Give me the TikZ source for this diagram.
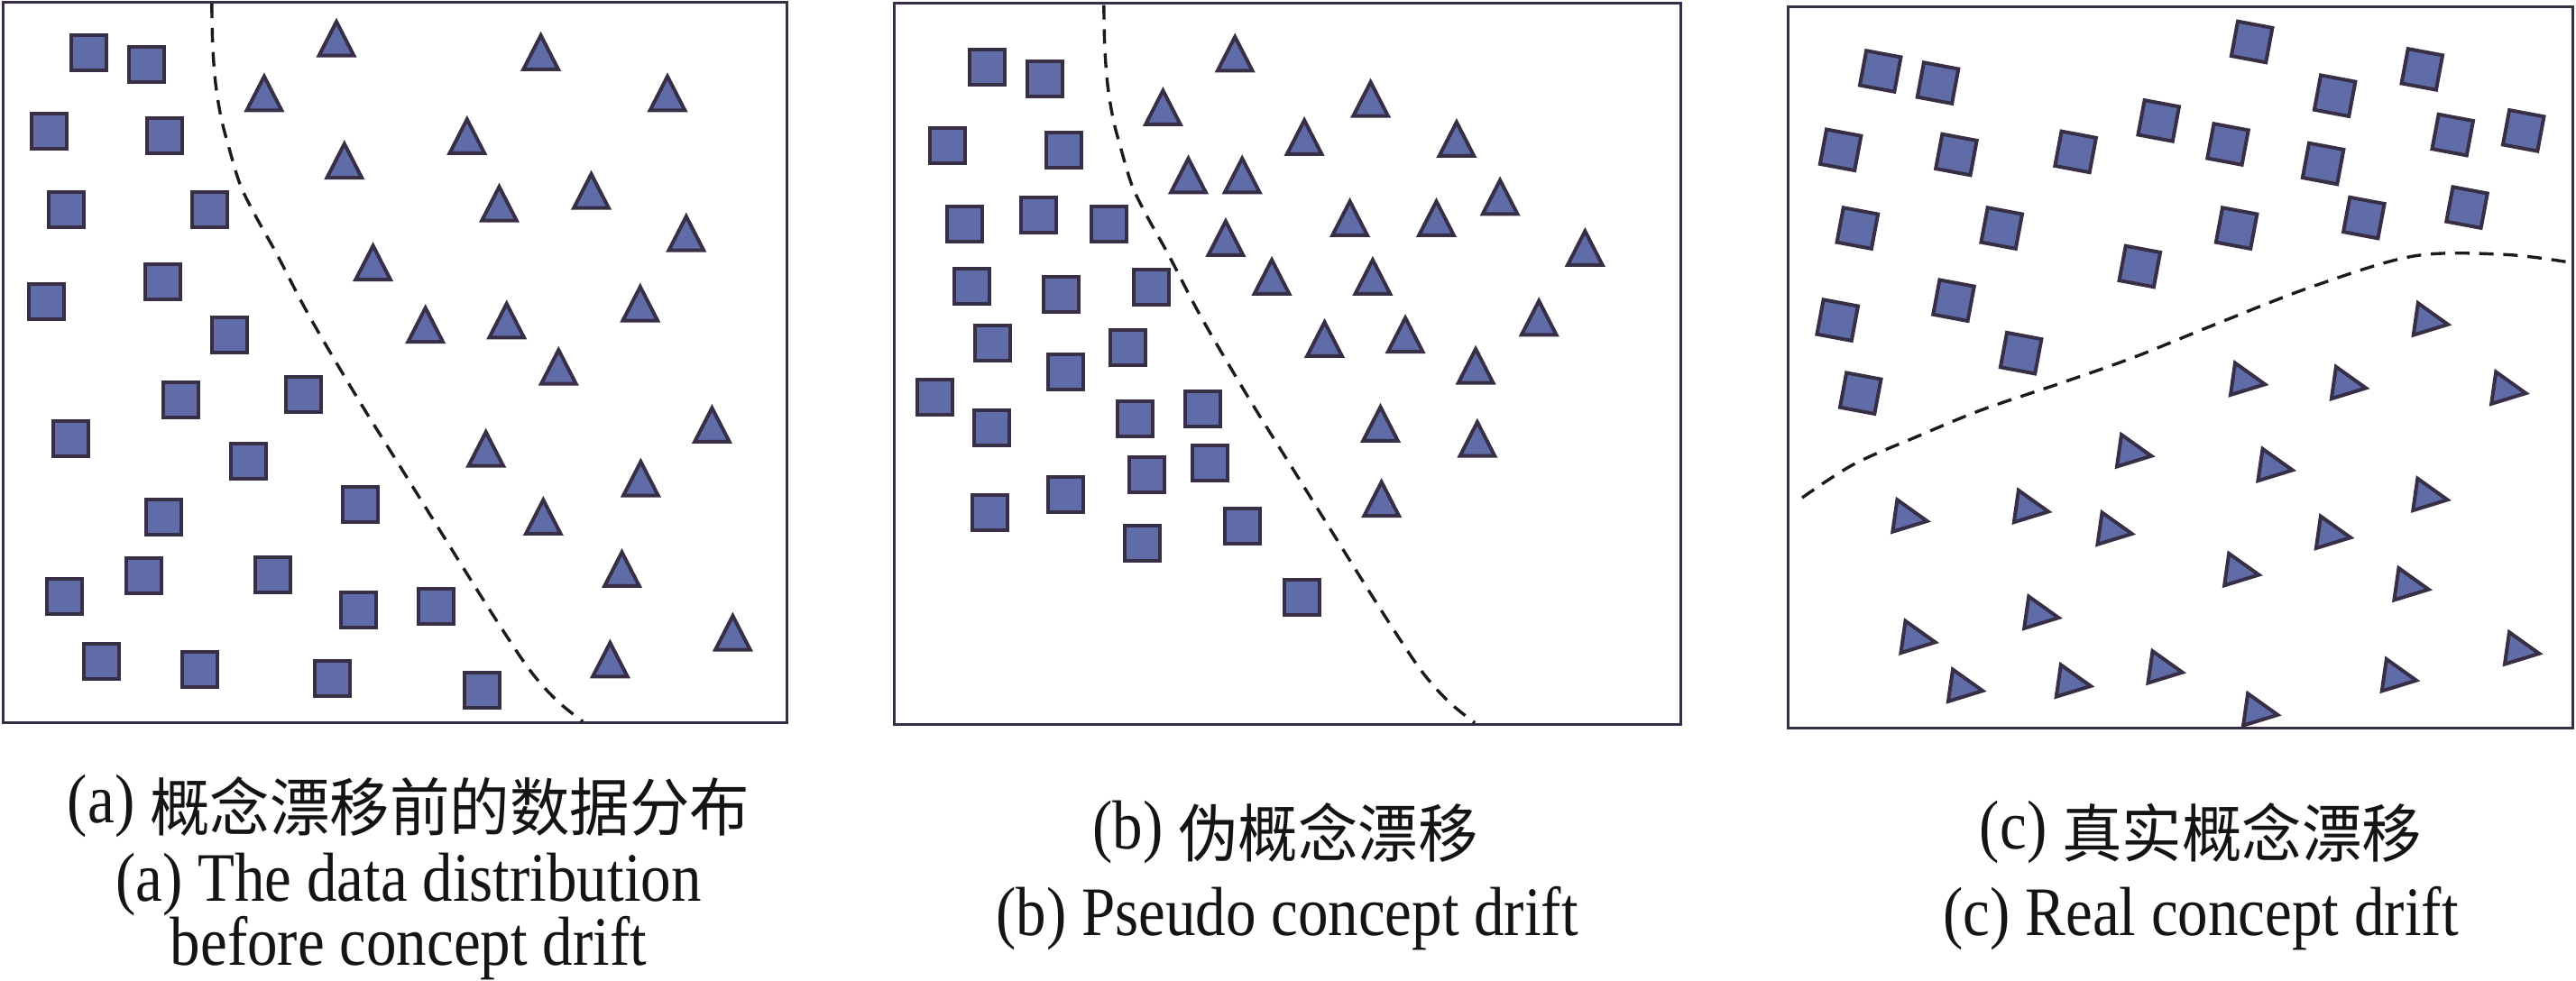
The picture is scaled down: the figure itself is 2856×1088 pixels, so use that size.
\documentclass[tikz,border=0pt]{standalone}
\usepackage{fontspec}
\setmainfont{Liberation Serif}[FakeStretch=0.87]
\newfontfamily\cjkfont{Noto Sans CJK SC}[FakeStretch=0.95]
\newcommand\zh[1]{\raisebox{-2pt}{\fontsize{17.5pt}{17.5pt}\cjkfont #1}}
\definecolor{mkfill}{RGB}{95,108,167}
\definecolor{mkline}{RGB}{56,46,70}
\definecolor{sepline}{RGB}{28,26,32}
\tikzset{
  mk/.style={fill=mkfill, draw=mkline, line width=1pt, line join=miter},
  panelframe/.style={draw=mkline, line width=0.75pt},
  sepcurve/.style={draw=sepline, line width=0.85pt, dash pattern=on 4pt off 2.7pt},
  lbl/.style={anchor=base, inner sep=0pt, text=black!92, font=\fontsize{19.25pt}{19.25pt}\selectfont},
  sqa/.pic={\path[mk] (-19.5,-19.5) rectangle (19.5,19.5);},
  tria/.pic={\path[mk] (0,-17.8) -- (19.3,19.8) -- (-19.3,19.8) -- cycle;},
  sqc/.pic={\path[mk] (-15.58,-22.76) -- (22.76,-15.58) -- (15.58,22.76) -- (-22.76,15.58) -- cycle;},
  tric/.pic={\path[mk] (-14.6,-17.4) -- (18.55,6.25) -- (-19.65,18.0) -- cycle;},
}
\begin{document}
\begin{tikzpicture}[x=0.25pt,y=-0.25pt]
\useasboundingbox (0,0) rectangle (2856,1088);
% frames
\draw[panelframe] (3,2.5) rectangle (872,802);
\draw[panelframe] (991,3.7) rectangle (1863,804);
\draw[panelframe] (1982,8) rectangle (2852,808);
% separating curves
\draw[sepcurve] plot[smooth, tension=0.55] coordinates {(234.8,4.2) (235.9,52.3) (239.2,94.1) (245.2,130.8) (253.4,162.1) (266.0,204.0) (282.5,238.0) (307.2,282.4) (342.8,350.4) (395.0,439.3) (447.1,523.0) (499.2,606.7) (548.5,685.1) (587.0,742.7) (617.1,776.7) (646.2,800.2)};
\begin{scope}[shift={(989,1.5)}]
\draw[sepcurve] plot[smooth, tension=0.55] coordinates {(234.8,4.2) (235.9,52.3) (239.2,94.1) (245.2,130.8) (253.4,162.1) (266.0,204.0) (282.5,238.0) (307.2,282.4) (342.8,350.4) (395.0,439.3) (447.1,523.0) (499.2,606.7) (548.5,685.1) (587.0,742.7) (617.1,776.7) (646.2,800.2)};
\end{scope}
\draw[sepcurve] plot[smooth, tension=0.55] coordinates {(1998,552) (2054.7,515.2) (2122.5,485.4) (2196,455) (2280.7,426.3) (2365.5,396.4) (2455.9,359.8) (2563.2,318) (2676.2,284) (2777.9,282.4) (2852,291.5)};
% panel (a)
\foreach \p in {(98.7,58.6),(162.4,71.7),(54.3,145.4),(182.7,150.6),(73.0,232.7),(232.6,232.7),(51.6,334.7),(180.5,312.8),(254.5,371.3),(200.8,443.5),(336.8,437.8),(78.4,486.9),(275.4,511.5),(181.6,573.7),(399.3,559.6),(71.3,661.6),(159.6,638.6),(302.8,637.6),(397.7,676.8),(483.3,672.6),(112.5,733.8),(221.1,742.7),(368.6,752.1),(534.3,765.7)}
  \pic at \p {sqa};
\foreach \p in {(373.0,41.8),(599.6,57.0),(292.9,102.5),(740.0,102.5),(517.8,150.1),(381.8,177.3),(655.5,210.8),(553.5,224.9),(760.8,257.8),(413.6,290.3),(471.7,359.3),(561.7,354.6),(709.8,335.8),(619.3,405.9),(789.4,470.2),(538.7,496.9),(710.4,529.8),(602.3,572.2),(689.5,630.2),(812.4,700.8),(676.4,730.6)}
  \pic at \p {tria};
% panel (b)
\foreach \p in {(1094.8,74.3),(1158.5,87.3),(1050.6,161.6),(1179.2,166.3),(1069.6,248.4),(1151.6,239.0),(1229.1,248.4),(1077.6,318.0),(1176.3,326.9),(1276.2,319.0),(1100.6,380.8),(1250.4,386.0),(1181.5,412.1),(1036.3,440.9),(1099.4,474.4),(1258.4,464.4),(1333.6,453.5),(1271.6,526.7),(1341.1,513.6),(1097.1,568.5),(1181.5,548.6),(1266.5,602.5),(1377.2,583.2),(1443.8,662.1)}
  \pic at \p {sqa};
\foreach \p in {(1369.2,58.6),(1289.4,118.2),(1519.6,108.8),(1446.1,151.2),(1614.9,153.2),(1317.5,193.5),(1377.2,193.5),(1663.1,217.6),(1496.6,241.1),(1592.5,241.1),(1358.9,263.1),(1757.3,274.1),(1410.0,306.0),(1521.9,306.0),(1706.2,351.5),(1468.5,375.0),(1558.1,370.3),(1636.1,404.8),(1530.5,469.1),(1637.9,485.9),(1531.7,552.3)}
  \pic at \p {tria};
% panel (c)
\foreach \p in {(2084.7,79.0),(2148.5,92.1),(2040.6,166.3),(2168.9,171.5),(2059.3,253.1),(2219.2,253.1),(2037.2,355.1),(2166.0,333.2),(2240.6,391.7),(2062.7,436.2),(2301.1,168.4),(2393.2,133.9),(2470.0,160.0),(2496.6,46.5),(2588.6,106.2),(2575.6,181.5),(2685.3,76.9),(2719.2,149.6),(2797.7,144.9),(2479.6,253.1),(2620.8,241.6),(2735.0,230.1),(2372.3,295.5)}
  \pic at \p {sqc};
\foreach \p in {(2695.4,353.6),(2492.6,420.0),(2604.5,424.2),(2781.8,429.9),(2366.6,499.5),(2523.1,515.2),(2694.9,548.1),(2118.0,571.7),(2252.5,561.2),(2345.1,585.8),(2587.5,590.0),(2485.8,631.3),(2674.0,647.5),(2263.8,678.9),(2127.1,706.1),(2796.6,718.6),(2179.6,759.9),(2299.4,754.7),(2401.1,739.5),(2660.4,748.4),(2506.7,786.6)}
  \pic at \p {tric};
% captions
\node[lbl] (capa1) at (453,913) {(a) \zh{概念漂移前的数据分布}};
\node[lbl] (capa2) at (453,1000) {(a) The data distribution};
\node[lbl] (capa3) at (453,1070) {before concept drift};
\node[lbl] (capb1) at (1425,942) {(b) \zh{伪概念漂移}};
\node[lbl] (capb2) at (1427,1037) {(b) Pseudo concept drift};
\node[lbl] (capc1) at (2440,942) {(c) \zh{真实概念漂移}};
\node[lbl] (capc2) at (2440,1037) {(c) Real concept drift};
\end{tikzpicture}
\end{document}
